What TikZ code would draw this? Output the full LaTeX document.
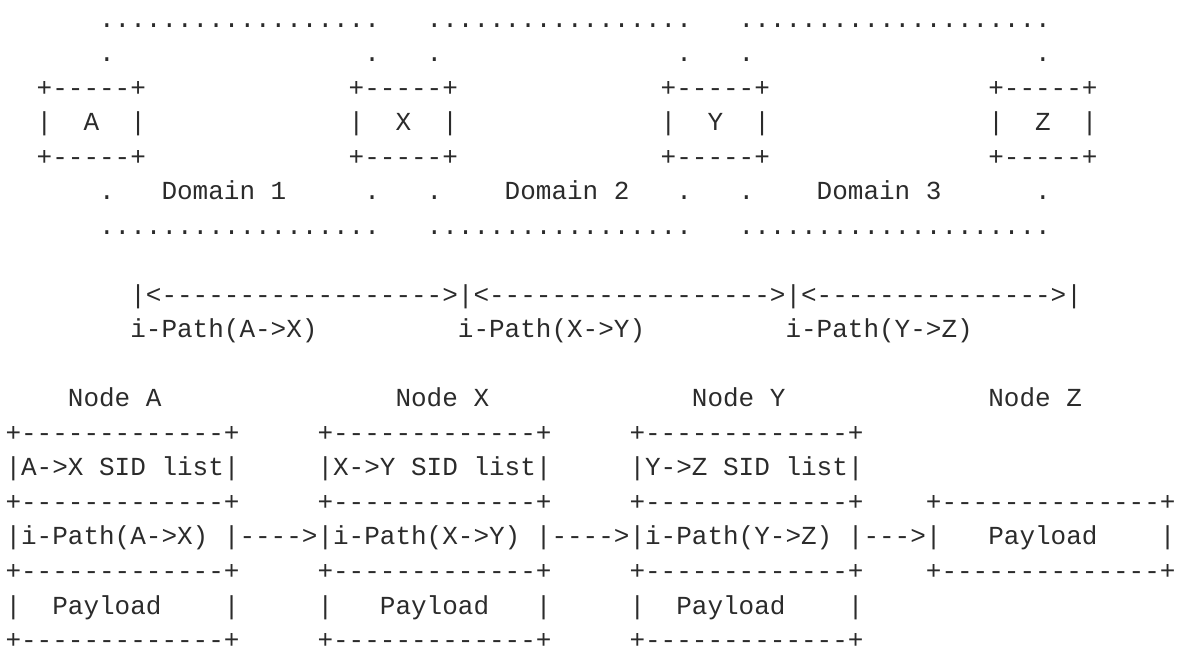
\documentclass[tikz,border=0pt]{standalone}
\usepackage{fontspec}
\setmonofont{Liberation Mono}
\definecolor{asciigray}{HTML}{2B2B2B}
\tikzset{
  txt/.style={anchor=base west, inner sep=0pt, outer sep=0pt, text=asciigray,
    font=\ttfamily\fontsize{13pt}{17pt}\selectfont}
}

\begin{document}
\begin{tikzpicture}[x=7.8pt, y=-17.265pt]
    \useasboundingbox (-0.353,-0.782) rectangle (75.096,18.216);
    % domains
    \foreach \r/\side in {0/top,6/bot} {
        \node[txt] (dom1\side) at (6,\r) {..................};
        \node[txt] (dom2\side) at (27,\r) {.................};
        \node[txt] (dom3\side) at (47,\r) {....................};
    }
    \foreach \c [count=\i] in {6,23,27,43,47,66} {
        \node[txt] (wallup\i) at (\c,1) {.};
        \node[txt] (walldn\i) at (\c,5) {.};
    }
    \node[txt] (domlbl1) at (10,5) {Domain 1};
    \node[txt] (domlbl2) at (32,5) {Domain 2};
    \node[txt] (domlbl3) at (52,5) {Domain 3};
    % border nodes
    \foreach \c/\lbl in {2/A,22/X,42/Y,63/Z} {
        \node[txt] (rtop\lbl) at (\c,2) {+-----+};
        \node[txt] (router\lbl) at (\c,3) {|~~\lbl~~|};
        \node[txt] (rbot\lbl) at (\c,4) {+-----+};
    }
    % i-paths
    \node[txt] (span) at (8,8) {|<------------------>|<------------------>|<--------------->|};
    \node[txt] (spanAX) at (8,9) {i-Path(A->X)};
    \node[txt] (spanXY) at (29,9) {i-Path(X->Y)};
    \node[txt] (spanYZ) at (50,9) {i-Path(Y->Z)};
    % packets
    \node[txt] (nodeA) at (4,11) {Node A};
    \node[txt] (nodeX) at (25,11) {Node X};
    \node[txt] (nodeY) at (44,11) {Node Y};
    \node[txt] (nodeZ) at (63,11) {Node Z};
    \foreach \c/\lbl in {0/A,20/X,40/Y} {
        \foreach \r in {12,14,16,18}
            \node[txt] (edge\lbl\r) at (\c,\r) {+-------------+};
    }
    \node[txt] (sidA) at (0,13) {|A->X SID list|};
    \node[txt] (sidX) at (20,13) {|X->Y SID list|};
    \node[txt] (sidY) at (40,13) {|Y->Z SID list|};
    \node[txt] (pathA) at (0,15) {|i-Path(A->X)~|};
    \node[txt] (fwdA) at (15,15) {---->};
    \node[txt] (pathX) at (20,15) {|i-Path(X->Y)~|};
    \node[txt] (fwdX) at (35,15) {---->};
    \node[txt] (pathY) at (40,15) {|i-Path(Y->Z)~|};
    \node[txt] (fwdY) at (55,15) {--->};
    \node[txt] (loadA) at (0,17) {|~~Payload~~~~|};
    \node[txt] (loadX) at (20,17) {|~~~Payload~~~|};
    \node[txt] (loadY) at (40,17) {|~~Payload~~~~|};
    \node[txt] (ztop) at (59,14) {+--------------+};
    \node[txt] (loadZ) at (59,15) {|~~~Payload~~~~|};
    \node[txt] (zbot) at (59,16) {+--------------+};
\end{tikzpicture}
\end{document}
